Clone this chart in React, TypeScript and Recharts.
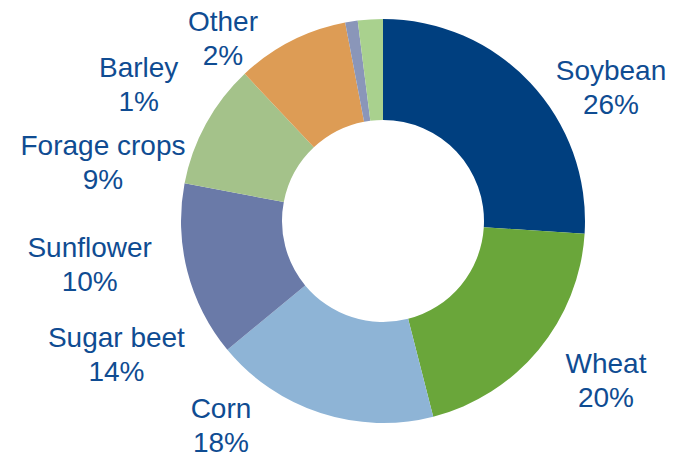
import React from "react";
import { PieChart, Pie, Cell } from "recharts";

const categories = ["Soybean", "Wheat", "Corn", "Sugar beet", "Sunflower", "Forage crops", "Barley", "Other"];
const shares = [26, 20, 18, 14, 10, 9, 1, 2];
const shareLabels = ["26%", "20%", "18%", "14%", "10%", "9%", "1%", "2%"];

const COLORS = ["#003F7F", "#6AA63A", "#8EB4D6", "#6A7AA8", "#A4C28A", "#DD9C55", "#8A96B9", "#A9D18E"];
// label anchor offsets (first-line baseline) relative to the pie centre
const LABEL_OFFSETS: [number, number][] = [
  [228, -141.5],
  [223, 151.7],
  [-162, 197.3],
  [-266.6, 126.3],
  [-293.3, 36.3],
  [-280, -66.5],
  [-244.3, -144.3],
  [-160, -190.3],
];

const data = categories.map((name, i) => ({ name, value: shares[i], label: shareLabels[i] }));

const TEXT_COLOR = "#0F4C92";
const FONT = "'Liberation Sans', Arial, sans-serif";

const renderLabel = (props: any) => {
  const { cx, cy, index } = props;
  const [dx, dy] = LABEL_OFFSETS[index];
  const x = cx + dx;
  const y = cy + dy;
  return (
    <text
      key={`lbl-${index}`}
      x={x}
      y={y}
      textAnchor="middle"
      fill={TEXT_COLOR}
      fontFamily={FONT}
      fontSize={28}
    >
      <tspan x={x} y={y}>{data[index].name}</tspan>
      <tspan x={x} y={y + 34}>{data[index].label}</tspan>
    </text>
  );
};

export default function App() {
  return (
    <div style={{ position: "absolute", left: 0, top: 0, width: 681, height: 457, background: "#fff" }}>
      <PieChart width={681} height={457} margin={{ top: 0, right: 0, bottom: 0, left: 0 }}>
        <Pie
          data={data}
          dataKey="value"
          nameKey="name"
          cx={383}
          cy={221}
          innerRadius={101}
          outerRadius={202}
          startAngle={90}
          endAngle={-270}
          stroke="none"
          label={renderLabel}
          labelLine={false}
          isAnimationActive={false}
        >
          {data.map((d, i) => (
            <Cell key={d.name} fill={COLORS[i]} />
          ))}
        </Pie>
      </PieChart>
    </div>
  );
}
